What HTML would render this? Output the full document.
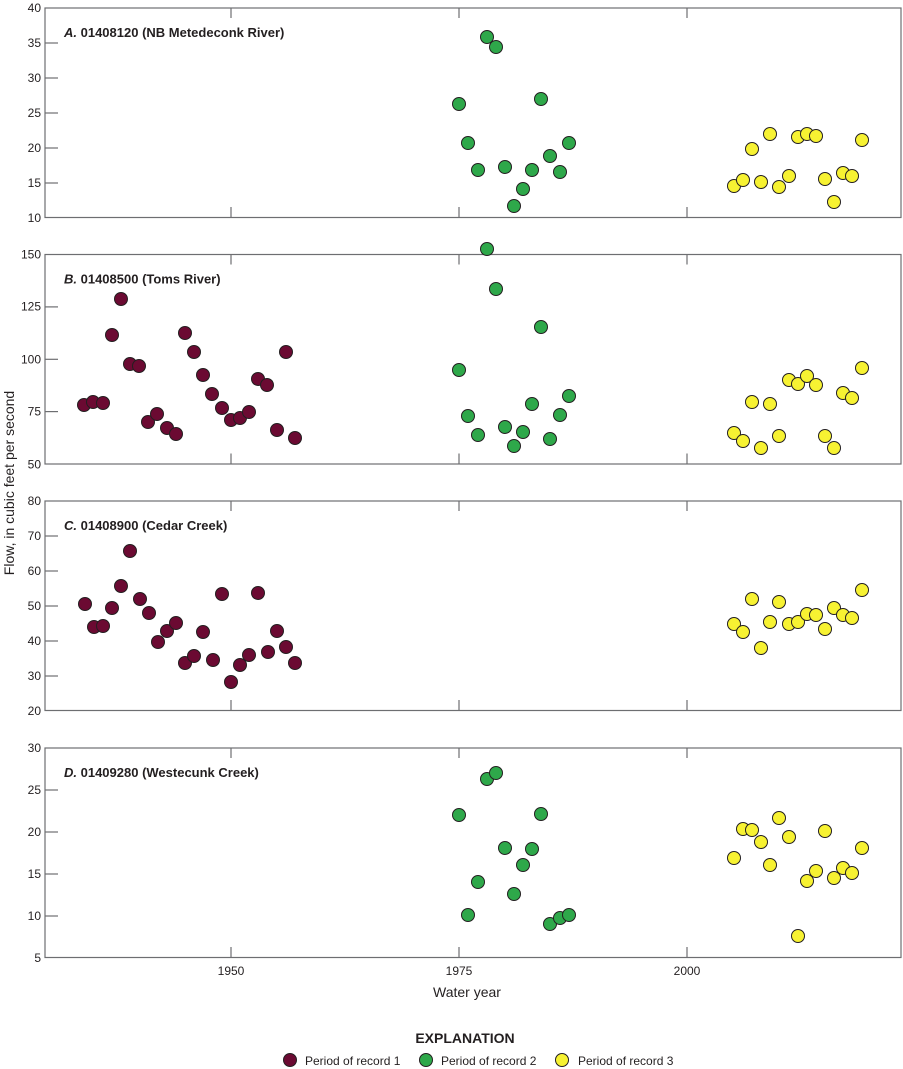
<!DOCTYPE html>
<html><head><meta charset="utf-8"><style>
html,body{margin:0;padding:0;background:#fff}
svg{display:block}
text{font-family:"Liberation Sans Narrow","Liberation Sans",sans-serif;fill:#231f20}
.t{font-size:12px}
.h{font-size:13px;font-weight:bold}
.p circle{stroke:#231f20;stroke-width:1}
</style></head><body>
<svg width="903" height="1069" viewBox="0 0 903 1069" xmlns="http://www.w3.org/2000/svg">
<defs>
<g id="frame">
<rect x="45" y="0" width="856" height="209.5" fill="none" stroke="#6d6e71" stroke-width="1.2"/>
<g stroke="#6d6e71" stroke-width="1.2">
<line x1="231" y1="0" x2="231" y2="10"/><line x1="459" y1="0" x2="459" y2="10"/><line x1="687" y1="0" x2="687" y2="10"/>
<line x1="231" y1="209.5" x2="231" y2="199"/><line x1="459" y1="209.5" x2="459" y2="199"/><line x1="687" y1="209.5" x2="687" y2="199"/>
</g>
</g>
</defs>

<!-- Panel A -->
<g transform="translate(0,8)"><use href="#frame"/>
<g stroke="#6d6e71" stroke-width="1.2">
<line x1="45" y1="35" x2="58" y2="35"/><line x1="45" y1="70" x2="58" y2="70"/><line x1="45" y1="105" x2="58" y2="105"/><line x1="45" y1="140" x2="58" y2="140"/><line x1="45" y1="175" x2="58" y2="175"/></g>
<g class="t" text-anchor="end"><text x="41" y="4">40</text><text x="41" y="39">35</text><text x="41" y="74">30</text><text x="41" y="109">25</text><text x="41" y="144">20</text><text x="41" y="179">15</text><text x="41" y="214">10</text></g>
<text class="h" x="64" y="29"><tspan font-style="italic">A.</tspan> 01408120 (NB Metedeconk River)</text>
</g>
<!-- Panel B -->
<g transform="translate(0,254.5)"><use href="#frame"/>
<g stroke="#6d6e71" stroke-width="1.2">
<line x1="45" y1="52.4" x2="58" y2="52.4"/><line x1="45" y1="104.8" x2="58" y2="104.8"/><line x1="45" y1="157.1" x2="58" y2="157.1"/></g>
<g class="t" text-anchor="end"><text x="41" y="4">150</text><text x="41" y="56">125</text><text x="41" y="109">100</text><text x="41" y="161">75</text><text x="41" y="214">50</text></g>
<text class="h" x="64" y="29"><tspan font-style="italic">B.</tspan> 01408500 (Toms River)</text>
</g>
<!-- Panel C -->
<g transform="translate(0,501)"><use href="#frame"/>
<g stroke="#6d6e71" stroke-width="1.2">
<line x1="45" y1="35" x2="58" y2="35"/><line x1="45" y1="70" x2="58" y2="70"/><line x1="45" y1="105" x2="58" y2="105"/><line x1="45" y1="140" x2="58" y2="140"/><line x1="45" y1="175" x2="58" y2="175"/></g>
<g class="t" text-anchor="end"><text x="41" y="4">80</text><text x="41" y="39">70</text><text x="41" y="74">60</text><text x="41" y="109">50</text><text x="41" y="144">40</text><text x="41" y="179">30</text><text x="41" y="214">20</text></g>
<text class="h" x="64" y="29"><tspan font-style="italic">C.</tspan> 01408900 (Cedar Creek)</text>
</g>
<!-- Panel D -->
<g transform="translate(0,748)"><use href="#frame"/>
<g stroke="#6d6e71" stroke-width="1.2">
<line x1="45" y1="42" x2="58" y2="42"/><line x1="45" y1="84" x2="58" y2="84"/><line x1="45" y1="126" x2="58" y2="126"/><line x1="45" y1="168" x2="58" y2="168"/></g>
<g class="t" text-anchor="end"><text x="41" y="4">30</text><text x="41" y="46">25</text><text x="41" y="88">20</text><text x="41" y="130">15</text><text x="41" y="172">10</text><text x="41" y="214">5</text></g>
<text class="h" x="64" y="29"><tspan font-style="italic">D.</tspan> 01409280 (Westecunk Creek)</text>
</g>

<g class="t" text-anchor="middle"><text x="231" y="975">1950</text><text x="459" y="975">1975</text><text x="687" y="975">2000</text></g>
<text x="467" y="997" text-anchor="middle" style="font-size:14px">Water year</text>
<text transform="translate(14,483) rotate(-90)" text-anchor="middle" style="font-size:14px">Flow, in cubic feet per second</text>

<g class="p">
<!-- A green -->
<g fill="#2ea84a">
<circle cx="459" cy="104" r="6.5"/><circle cx="468" cy="143" r="6.5"/><circle cx="478" cy="170" r="6.5"/><circle cx="487" cy="37" r="6.5"/><circle cx="496" cy="47" r="6.5"/><circle cx="505" cy="167" r="6.5"/><circle cx="514" cy="206" r="6.5"/><circle cx="523" cy="189" r="6.5"/><circle cx="532" cy="170" r="6.5"/><circle cx="541" cy="99" r="6.5"/><circle cx="550" cy="156" r="6.5"/><circle cx="560" cy="172" r="6.5"/><circle cx="569" cy="143" r="6.5"/>
<circle cx="459" cy="370" r="6.5"/><circle cx="468" cy="416" r="6.5"/><circle cx="478" cy="435" r="6.5"/><circle cx="487" cy="249" r="6.5"/><circle cx="496" cy="289" r="6.5"/><circle cx="505" cy="427" r="6.5"/><circle cx="514" cy="446" r="6.5"/><circle cx="523" cy="432" r="6.5"/><circle cx="532" cy="404" r="6.5"/><circle cx="541" cy="327" r="6.5"/><circle cx="550" cy="439" r="6.5"/><circle cx="560" cy="415" r="6.5"/><circle cx="569" cy="396" r="6.5"/>
<circle cx="459" cy="815" r="6.5"/><circle cx="468" cy="915" r="6.5"/><circle cx="478" cy="882" r="6.5"/><circle cx="487" cy="779" r="6.5"/><circle cx="496" cy="773" r="6.5"/><circle cx="505" cy="848" r="6.5"/><circle cx="514" cy="894" r="6.5"/><circle cx="523" cy="865" r="6.5"/><circle cx="532" cy="849" r="6.5"/><circle cx="541" cy="814" r="6.5"/><circle cx="550" cy="924" r="6.5"/><circle cx="560" cy="918" r="6.5"/><circle cx="569" cy="915" r="6.5"/>
<circle cx="426" cy="1060" r="6.5"/>
</g>
<g fill="#f7f232">
<circle cx="734" cy="186" r="6.5"/><circle cx="743" cy="180" r="6.5"/><circle cx="752" cy="149" r="6.5"/><circle cx="761" cy="182" r="6.5"/><circle cx="770" cy="134" r="6.5"/><circle cx="779" cy="187" r="6.5"/><circle cx="789" cy="176" r="6.5"/><circle cx="798" cy="137" r="6.5"/><circle cx="807" cy="134" r="6.5"/><circle cx="816" cy="136" r="6.5"/><circle cx="825" cy="179" r="6.5"/><circle cx="834" cy="202" r="6.5"/><circle cx="843" cy="173" r="6.5"/><circle cx="852" cy="176" r="6.5"/><circle cx="862" cy="140" r="6.5"/>
<circle cx="734" cy="433" r="6.5"/><circle cx="743" cy="441" r="6.5"/><circle cx="752" cy="402" r="6.5"/><circle cx="761" cy="448" r="6.5"/><circle cx="770" cy="404" r="6.5"/><circle cx="779" cy="436" r="6.5"/><circle cx="789" cy="380" r="6.5"/><circle cx="798" cy="384" r="6.5"/><circle cx="807" cy="376" r="6.5"/><circle cx="816" cy="385" r="6.5"/><circle cx="825" cy="436" r="6.5"/><circle cx="834" cy="448" r="6.5"/><circle cx="843" cy="393" r="6.5"/><circle cx="852" cy="398" r="6.5"/><circle cx="862" cy="368" r="6.5"/>
<circle cx="734" cy="624" r="6.5"/><circle cx="743" cy="632" r="6.5"/><circle cx="752" cy="599" r="6.5"/><circle cx="761" cy="648" r="6.5"/><circle cx="770" cy="622" r="6.5"/><circle cx="779" cy="602" r="6.5"/><circle cx="789" cy="624" r="6.5"/><circle cx="798" cy="622" r="6.5"/><circle cx="807" cy="614" r="6.5"/><circle cx="816" cy="615" r="6.5"/><circle cx="825" cy="629" r="6.5"/><circle cx="834" cy="608" r="6.5"/><circle cx="843" cy="615" r="6.5"/><circle cx="852" cy="618" r="6.5"/><circle cx="862" cy="590" r="6.5"/>
<circle cx="734" cy="858" r="6.5"/><circle cx="743" cy="829" r="6.5"/><circle cx="752" cy="830" r="6.5"/><circle cx="761" cy="842" r="6.5"/><circle cx="770" cy="865" r="6.5"/><circle cx="779" cy="818" r="6.5"/><circle cx="789" cy="837" r="6.5"/><circle cx="798" cy="936" r="6.5"/><circle cx="807" cy="881" r="6.5"/><circle cx="816" cy="871" r="6.5"/><circle cx="825" cy="831" r="6.5"/><circle cx="834" cy="878" r="6.5"/><circle cx="843" cy="868" r="6.5"/><circle cx="852" cy="873" r="6.5"/><circle cx="862" cy="848" r="6.5"/>
<circle cx="562" cy="1060" r="6.5"/>
</g>
<g fill="#6b0a32">
<circle cx="84" cy="405" r="6.5"/><circle cx="93" cy="402" r="6.5"/><circle cx="103" cy="403" r="6.5"/><circle cx="112" cy="335" r="6.5"/><circle cx="121" cy="299" r="6.5"/><circle cx="130" cy="364" r="6.5"/><circle cx="139" cy="366" r="6.5"/><circle cx="148" cy="422" r="6.5"/><circle cx="157" cy="414" r="6.5"/><circle cx="167" cy="428" r="6.5"/><circle cx="176" cy="434" r="6.5"/><circle cx="185" cy="333" r="6.5"/><circle cx="194" cy="352" r="6.5"/><circle cx="203" cy="375" r="6.5"/><circle cx="212" cy="394" r="6.5"/><circle cx="222" cy="408" r="6.5"/><circle cx="231" cy="420" r="6.5"/><circle cx="240" cy="418" r="6.5"/><circle cx="249" cy="412" r="6.5"/><circle cx="258" cy="379" r="6.5"/><circle cx="267" cy="385" r="6.5"/><circle cx="277" cy="430" r="6.5"/><circle cx="286" cy="352" r="6.5"/><circle cx="295" cy="438" r="6.5"/>
<circle cx="85" cy="604" r="6.5"/><circle cx="94" cy="627" r="6.5"/><circle cx="103" cy="626" r="6.5"/><circle cx="112" cy="608" r="6.5"/><circle cx="121" cy="586" r="6.5"/><circle cx="130" cy="551" r="6.5"/><circle cx="140" cy="599" r="6.5"/><circle cx="149" cy="613" r="6.5"/><circle cx="158" cy="642" r="6.5"/><circle cx="167" cy="631" r="6.5"/><circle cx="176" cy="623" r="6.5"/><circle cx="185" cy="663" r="6.5"/><circle cx="194" cy="656" r="6.5"/><circle cx="203" cy="632" r="6.5"/><circle cx="213" cy="660" r="6.5"/><circle cx="222" cy="594" r="6.5"/><circle cx="231" cy="682" r="6.5"/><circle cx="240" cy="665" r="6.5"/><circle cx="249" cy="655" r="6.5"/><circle cx="258" cy="593" r="6.5"/><circle cx="268" cy="652" r="6.5"/><circle cx="277" cy="631" r="6.5"/><circle cx="286" cy="647" r="6.5"/><circle cx="295" cy="663" r="6.5"/>
<circle cx="290" cy="1060" r="6.5"/>
</g>
</g>

<text x="465" y="1043" text-anchor="middle" style="font-size:14px;font-weight:bold">EXPLANATION</text>
<g class="t"><text x="305" y="1065">Period of record 1</text><text x="441" y="1065">Period of record 2</text><text x="578" y="1065">Period of record 3</text></g>
</svg>
</body></html>
